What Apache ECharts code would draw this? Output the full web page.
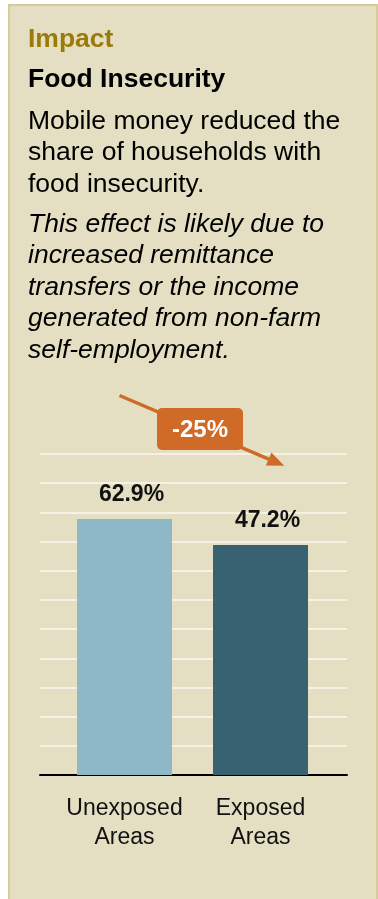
<!DOCTYPE html>
<html>
<head>
<meta charset="utf-8">
<style>
  html, body { margin: 0; padding: 0; background: #ffffff; }
  #chart { width: 378px; height: 899px; }
</style>
<script src="https://cdn.jsdelivr.net/npm/echarts@6/dist/echarts.min.js"></script>
</head>
<body>
<div id="chart"></div>
<script>
// Share of households with food insecurity, by mobile-money exposure
const categories = ['Unexposed\nAreas', 'Exposed\nAreas'];
const shareFoodInsecure = [62.9, 47.2];
const barColors = ['#8eb7c8', '#386171'];

const headline = 'Impact';
const heading = 'Food Insecurity';
const summaryLines = [
  'Mobile money reduced the',
  'share of households with',
  'food insecurity.'
];
const noteLines = [
  'This effect is likely due to',
  'increased remittance',
  'transfers or the income',
  'generated from non-farm',
  'self-employment.'
];

const FONT = "'Liberation Sans', Arial, Helvetica, sans-serif";
const ORANGE = '#cf6a27';

// relative change between the two groups, shown in the badge
const pctChange = Math.round((shareFoodInsecure[1] - shareFoodInsecure[0]) / shareFoodInsecure[0] * 100);
const changeLabel = (pctChange > 0 ? '+' : '') + pctChange + '%';

const chart = echarts.init(document.getElementById('chart'), null, { renderer: 'canvas' });

// arrow geometry (tail -> tip), head drawn as a triangle
const tail = [119.5, 395.5];
const tip = [284.3, 465.7];
const dx = tip[0] - tail[0], dy = tip[1] - tail[1];
const len = Math.hypot(dx, dy);
const ux = dx / len, uy = dy / len;
const headLen = 17, headHalf = 7;
const base = [tip[0] - ux * headLen, tip[1] - uy * headLen];
const headPts = [
  tip,
  [base[0] - uy * headHalf, base[1] + ux * headHalf],
  [base[0] + uy * headHalf, base[1] - ux * headHalf]
];

chart.setOption({
  backgroundColor: '#ffffff',
  animation: false,
  grid: [
    // guide lines + baseline
    { left: 40, right: 31, top: 454, bottom: 124 },
    // bars
    { left: 56.5, right: 49.5, top: 454, bottom: 124 }
  ],
  xAxis: [
    {
      gridIndex: 0, type: 'value', min: 0, max: 1,
      axisLine: { show: true, lineStyle: { color: '#000000', width: 2 } },
      axisTick: { show: false }, axisLabel: { show: false }, splitLine: { show: false }
    },
    {
      gridIndex: 1, type: 'category', data: categories,
      axisLine: { show: false }, axisTick: { show: false },
      axisLabel: {
        interval: 0,
        color: '#111111', fontFamily: FONT, fontSize: 23, lineHeight: 29, margin: 19
      }
    }
  ],
  yAxis: [
    {
      gridIndex: 0, type: 'value', min: 0, max: 11, interval: 1,
      axisLine: { show: false }, axisTick: { show: false }, axisLabel: { show: false },
      splitLine: { show: true, lineStyle: { color: '#f6f1e3', width: 2 } }
    },
    {
      // compressed (log) scale for the bars, bottom clipped at the baseline
      gridIndex: 1, type: 'log', logBase: 10, min: 3.733, max: 128.8,
      show: false, splitLine: { show: false }
    }
  ],
  series: [{
    type: 'bar',
    xAxisIndex: 1, yAxisIndex: 1,
    barWidth: 95,
    clip: true,
    data: shareFoodInsecure.map((v, i) => ({ value: v, itemStyle: { color: barColors[i] } })),
    label: {
      show: true, position: 'top', distance: 13, offset: [7, 0],
      formatter: '{c}%',
      color: '#111111', fontFamily: FONT, fontSize: 23, fontWeight: 'bold'
    },
    z: 3
  }],
  graphic: [
    // panel
    {
      type: 'rect', left: 8, top: 4, z: -10,
      shape: { width: 368, height: 900 },
      style: { fill: '#e4dfc2', stroke: '#d5cb9b', lineWidth: 2 }
    },
    {
      type: 'text', x: 28, y: 40,
      style: { text: headline, font: 'bold 26.5px ' + FONT, fill: '#9a7b0a', verticalAlign: 'middle' }
    },
    {
      type: 'text', x: 28, y: 80,
      style: { text: heading, font: 'bold 26.5px ' + FONT, fill: '#000000', verticalAlign: 'middle' }
    },
    {
      type: 'text', x: 28, y: 105.5,
      style: { text: summaryLines.join('\n'), font: '26.5px ' + FONT, fill: '#000000', lineHeight: 31.5, verticalAlign: 'top' }
    },
    {
      type: 'text', x: 28, y: 208.5,
      style: { text: noteLines.join('\n'), font: 'italic 26.5px ' + FONT, fill: '#000000', lineHeight: 31.5, verticalAlign: 'top' }
    },
    // change arrow
    {
      type: 'line', z: 20,
      shape: { x1: tail[0], y1: tail[1], x2: base[0], y2: base[1] },
      style: { stroke: ORANGE, lineWidth: 3.5 }
    },
    {
      type: 'polygon', z: 20,
      shape: { points: headPts },
      style: { fill: ORANGE }
    },
    // change badge
    {
      type: 'rect', z: 21,
      shape: { x: 157, y: 408, width: 86, height: 42, r: 5 },
      style: { fill: ORANGE }
    },
    {
      type: 'text', z: 22, x: 200, y: 430,
      style: { text: changeLabel, font: 'bold 24px ' + FONT, fill: '#ffffff', align: 'center', verticalAlign: 'middle' }
    }
  ]
});
</script>
</body>
</html>
